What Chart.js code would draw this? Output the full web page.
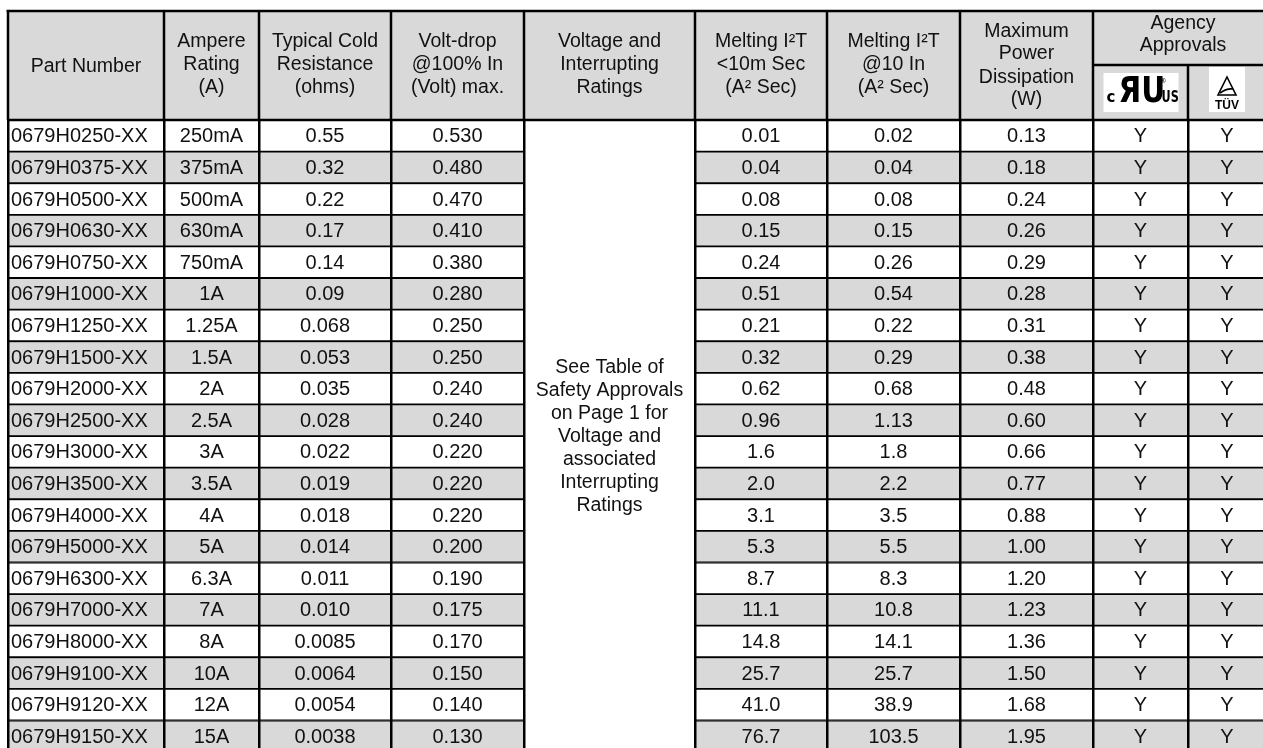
<!DOCTYPE html>
<html>
<head>
<meta charset="utf-8">
<script src="https://cdn.jsdelivr.net/npm/chart.js@4.4.1/dist/chart.umd.min.js"></script>
<style>
  html, body { margin: 0; padding: 0; background: #fff; }
  #wrap { width: 1263px; height: 748px; }
</style>
</head>
<body>
<div id="wrap"><canvas id="fuseTable" width="1263" height="748"></canvas></div>
<script>
// dados da tabela
const partNumbers = ['0679H0250-XX', '0679H0375-XX', '0679H0500-XX', '0679H0630-XX', '0679H0750-XX',
  '0679H1000-XX', '0679H1250-XX', '0679H1500-XX', '0679H2000-XX', '0679H2500-XX',
  '0679H3000-XX', '0679H3500-XX', '0679H4000-XX', '0679H5000-XX', '0679H6300-XX',
  '0679H7000-XX', '0679H8000-XX', '0679H9100-XX', '0679H9120-XX', '0679H9150-XX'];
const ampereRatings = ['250mA', '375mA', '500mA', '630mA', '750mA', '1A', '1.25A', '1.5A', '2A', '2.5A',
  '3A', '3.5A', '4A', '5A', '6.3A', '7A', '8A', '10A', '12A', '15A'];
const coldResistance = ['0.55', '0.32', '0.22', '0.17', '0.14', '0.09', '0.068', '0.053', '0.035', '0.028',
  '0.022', '0.019', '0.018', '0.014', '0.011', '0.010', '0.0085', '0.0064', '0.0054', '0.0038'];
const voltDrop = ['0.530', '0.480', '0.470', '0.410', '0.380', '0.280', '0.250', '0.250', '0.240', '0.240',
  '0.220', '0.220', '0.220', '0.200', '0.190', '0.175', '0.170', '0.150', '0.140', '0.130'];
const meltingShort = ['0.01', '0.04', '0.08', '0.15', '0.24', '0.51', '0.21', '0.32', '0.62', '0.96',
  '1.6', '2.0', '3.1', '5.3', '8.7', '11.1', '14.8', '25.7', '41.0', '76.7'];
const melting10In = ['0.02', '0.04', '0.08', '0.15', '0.26', '0.54', '0.22', '0.29', '0.68', '1.13',
  '1.8', '2.2', '3.5', '5.5', '8.3', '10.8', '14.1', '25.7', '38.9', '103.5'];
const maxPower = ['0.13', '0.18', '0.24', '0.26', '0.29', '0.28', '0.31', '0.38', '0.48', '0.60',
  '0.66', '0.77', '0.88', '1.00', '1.20', '1.23', '1.36', '1.50', '1.68', '1.95'];
const ulApproval = partNumbers.map(() => 'Y');
const tuvApproval = partNumbers.map(() => 'Y');

const headerLines = [
  ['Part Number'],
  ['Ampere', 'Rating', '(A)'],
  ['Typical Cold', 'Resistance', '(ohms)'],
  ['Volt-drop', '@100% In', '(Volt) max.'],
  ['Voltage and', 'Interrupting', 'Ratings'],
  ['Melting I²T', '<10m Sec', '(A² Sec)'],
  ['Melting I²T', '@10 In', '(A² Sec)'],
  ['Maximum', 'Power', 'Dissipation', '(W)']
];
const agencyTitle = ['Agency', 'Approvals'];
const mergedNote = ['See Table of', 'Safety Approvals', 'on Page 1 for', 'Voltage and', 'associated', 'Interrupting', 'Ratings'];

// layout (bordas das colunas em unidades do eixo x)
const colEdges = [8, 164, 259, 391, 524, 695, 827, 960, 1093, 1188, 1266];
const MERGED_COL = 4;
const AGENCY_CENTER = 1183;
const HEADER_TOP = 11, HEADER_BOTTOM = 120, SUBHEADER_Y = 65;
const GRAY = '#d9d9d9';
const INK = '#111';
const FONT = '"Liberation Sans", Arial, sans-serif';

// colunas de texto por linha (índice da coluna -> array)
const rowColumns = [
  [0, partNumbers], [1, ampereRatings], [2, coldResistance], [3, voltDrop],
  [5, meltingShort], [6, melting10In], [7, maxPower], [8, ulApproval], [9, tuvApproval]
];

function colCenter(c) { return (colEdges[c] + colEdges[c + 1]) / 2; }

const rowBg = ctx => (ctx.dataIndex % 2 ? GRAY : '#ffffff');
const rowBorder = { top: 1.25, bottom: 1.25, left: 0, right: 0 };

// texto das células
const cellTextPlugin = {
  id: 'cellText',
  afterDatasetsDraw(chart) {
    const { ctx, scales: { x, y } } = chart;
    ctx.save();
    ctx.fillStyle = INK;
    ctx.textBaseline = 'middle';
    ctx.font = '20px ' + FONT;
    partNumbers.forEach((_, i) => {
      const py = y.getPixelForValue(i + 0.5) + 1;
      rowColumns.forEach(([c, arr]) => {
        if (c === 0) {
          ctx.textAlign = 'left';
          ctx.fillText(arr[i], x.getPixelForValue(colEdges[0]) + 3, py);
        } else {
          ctx.textAlign = 'center';
          ctx.fillText(arr[i], x.getPixelForValue(colCenter(c)), py);
        }
      });
    });
    // nota da coluna mesclada
    ctx.textAlign = 'center';
    ctx.font = '19.5px ' + FONT;
    const midY = y.getPixelForValue(partNumbers.length / 2);
    const lh = 23;
    mergedNote.forEach((t, k) => {
      ctx.fillText(t, x.getPixelForValue(colCenter(MERGED_COL)), midY + (k - (mergedNote.length - 1) / 2) * lh + 1);
    });
    ctx.restore();
  }
};

function drawUL(ctx, cx) {
  ctx.fillStyle = '#fff';
  ctx.fillRect(cx - 37, 73, 75, 39);
  ctx.fillStyle = '#000';
  ctx.textAlign = 'left';
  ctx.textBaseline = 'alphabetic';
  ctx.font = 'bold 15px "DejaVu Sans"';
  ctx.fillText('c', cx - 34, 102);
  ctx.save();
  ctx.translate(cx - 22, 102);
  ctx.scale(0.82, 1);
  ctx.font = 'bold 36px "DejaVu Sans"';
  ctx.fillText('ЯU', 0, 0);
  ctx.restore();
  ctx.font = '7px "DejaVu Sans"';
  ctx.fillText('®', cx + 19, 83);
  ctx.save();
  ctx.translate(cx + 21, 102);
  ctx.scale(0.75, 1);
  ctx.font = 'bold 15px "DejaVu Sans"';
  ctx.fillText('US', 0, 0);
  ctx.restore();
}

function drawTUV(ctx, cx) {
  ctx.fillStyle = '#fff';
  ctx.fillRect(cx - 18, 67, 36, 45);
  ctx.strokeStyle = '#000';
  ctx.lineWidth = 1.6;
  ctx.beginPath();
  ctx.moveTo(cx, 77);
  ctx.lineTo(cx + 9, 95);
  ctx.lineTo(cx - 9, 95);
  ctx.closePath();
  ctx.stroke();
  ctx.beginPath();
  ctx.moveTo(cx - 7, 93);
  ctx.quadraticCurveTo(cx, 88, cx + 6, 89);
  ctx.stroke();
  ctx.fillStyle = '#000';
  ctx.textAlign = 'center';
  ctx.textBaseline = 'alphabetic';
  ctx.font = 'bold 12px "Liberation Sans"';
  ctx.fillText('TÜV', cx, 109);
}

// cabeçalho acima da área do gráfico
const headerPlugin = {
  id: 'tableHeader',
  afterDraw(chart) {
    const { ctx, scales: { x } } = chart;
    const px = v => x.getPixelForValue(v);
    const left = px(colEdges[0]);
    const right = px(colEdges[colEdges.length - 1]);
    ctx.save();
    ctx.fillStyle = GRAY;
    ctx.fillRect(left, HEADER_TOP, right - left, HEADER_BOTTOM - HEADER_TOP);

    // texto
    ctx.fillStyle = INK;
    ctx.textAlign = 'center';
    ctx.textBaseline = 'middle';
    ctx.font = '19.5px ' + FONT;
    const linesY = {
      1: [67],
      3: [42, 65, 88],
      4: [32, 54, 78, 100]
    };
    headerLines.forEach((lines, c) => {
      lines.forEach((t, k) => ctx.fillText(t, px(colCenter(c)), linesY[lines.length][k]));
    });
    ctx.fillText(agencyTitle[0], px(AGENCY_CENTER), 24);
    ctx.fillText(agencyTitle[1], px(AGENCY_CENTER), 46);

    drawUL(ctx, px(colCenter(8)));
    drawTUV(ctx, px(colCenter(9)));

    // linhas
    ctx.strokeStyle = '#000';
    ctx.lineWidth = 2.5;
    ctx.beginPath();
    ctx.moveTo(left - 1.5, HEADER_TOP); ctx.lineTo(right, HEADER_TOP);
    ctx.moveTo(left, HEADER_BOTTOM); ctx.lineTo(right, HEADER_BOTTOM);
    ctx.moveTo(px(colEdges[8]), SUBHEADER_Y); ctx.lineTo(right, SUBHEADER_Y);
    colEdges.forEach((e, c) => {
      const top = c === 9 ? SUBHEADER_Y : HEADER_TOP;
      ctx.moveTo(px(e), top); ctx.lineTo(px(e), HEADER_BOTTOM);
    });
    ctx.stroke();
    ctx.restore();
  }
};

const leftCells = partNumbers.map((_, i) => ({ x: [colEdges[0], colEdges[MERGED_COL]], y: i + 0.5 }));
const rightCells = partNumbers.map((_, i) => ({ x: [colEdges[MERGED_COL + 1], colEdges[colEdges.length - 1]], y: i + 0.5 }));

const cellStyle = {
  backgroundColor: rowBg, borderColor: '#000', borderWidth: rowBorder, borderSkipped: false,
  barPercentage: 1, categoryPercentage: 1, grouped: false
};

new Chart(document.getElementById('fuseTable'), {
  type: 'bar',
  data: {
    datasets: [
      { data: leftCells, ...cellStyle },
      { data: rightCells, ...cellStyle }
    ]
  },
  options: {
    responsive: false,
    animation: false,
    indexAxis: 'y',
    layout: { padding: { top: HEADER_BOTTOM, left: 0, right: 0, bottom: 0 } },
    plugins: { legend: { display: false }, tooltip: { enabled: false } },
    scales: {
      x: {
        type: 'linear', position: 'top', min: 0, max: 1263,
        afterBuildTicks: axis => { axis.ticks = colEdges.map(v => ({ value: v })); },
        ticks: { display: false },
        grid: { color: '#000', lineWidth: 2.5, drawTicks: false, z: 1 },
        border: { display: false }
      },
      y: {
        type: 'linear', reverse: true, min: 0, max: 19.87, offset: false,
        display: false
      }
    }
  },
  plugins: [cellTextPlugin, headerPlugin]
});
</script>
</body>
</html>
